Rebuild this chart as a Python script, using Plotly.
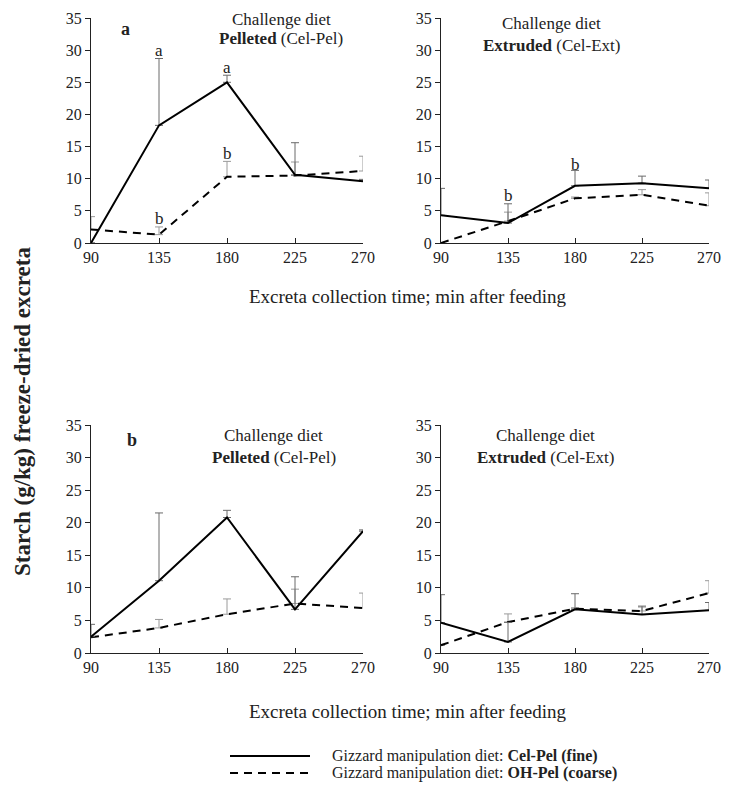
import plotly.graph_objects as go

# ---------------- data ----------------
minutes = [90, 135, 180, 225, 270]
tick_labels = ["90", "135", "180", "225", "270"]

# panel a, Pelleted (Cel-Pel) challenge diet
a_pel_fine = [0.0, 18.3, 25.0, 10.6, 9.6]
a_pel_fine_err = [0.0, 10.4, 1.1, 5.0, 0.3]
a_pel_coarse = [2.1, 1.3, 10.3, 10.5, 11.2]
a_pel_coarse_err = [2.0, 1.2, 2.4, 2.1, 2.3]

# panel a, Extruded (Cel-Ext) challenge diet
a_ext_fine = [4.3, 3.1, 8.9, 9.3, 8.5]
a_ext_fine_err = [4.2, 3.0, 2.4, 1.1, 1.3]
a_ext_coarse = [0.0, 3.4, 6.95, 7.5, 5.8]
a_ext_coarse_err = [0.0, 1.4, 0.2, 0.8, 2.0]

# panel b, Pelleted (Cel-Pel) challenge diet
b_pel_fine = [2.5, 11.1, 20.8, 6.7, 18.7]
b_pel_fine_err = [1.9, 10.4, 1.1, 5.0, 0.2]
b_pel_coarse = [2.4, 3.85, 5.95, 7.6, 6.9]
b_pel_coarse_err = [0.0, 1.3, 2.35, 2.2, 2.3]

# panel b, Extruded (Cel-Ext) challenge diet
b_ext_fine = [4.65, 1.7, 6.7, 5.9, 6.55]
b_ext_fine_err = [4.3, 3.0, 2.4, 1.3, 1.2]
b_ext_coarse = [1.2, 4.75, 6.8, 6.45, 9.2]
b_ext_coarse_err = [0.0, 1.25, 0.15, 0.6, 1.9]

# significance letters: (panel, x, y, letter)
sig_letters = [
    (1, 135, 30.0, "a"), (1, 180, 27.3, "a"),
    (1, 135, 3.8, "b"), (1, 180, 13.9, "b"),
    (2, 135, 7.4, "b"), (2, 180, 12.2, "b"),
]

series_names = ["Gizzard manipulation diet: <b>Cel-Pel (fine)</b>",
                "Gizzard manipulation diet: <b>OH-Pel (coarse)</b>"]

panels = [
    (a_pel_fine, a_pel_fine_err, a_pel_coarse, a_pel_coarse_err),
    (a_ext_fine, a_ext_fine_err, a_ext_coarse, a_ext_coarse_err),
    (b_pel_fine, b_pel_fine_err, b_pel_coarse, b_pel_coarse_err),
    (b_ext_fine, b_ext_fine_err, b_ext_coarse, b_ext_coarse_err),
]

# ---------------- figure ----------------
# page body has an 8px default margin, so the figure is offset by 8px
OFF = 8
W, H = 730 - OFF, 790 - 2 * OFF
FONT = "Liberation Serif, Times New Roman, serif"
INK = "#222"

def px_x(p):
    return (p - OFF) / W

def px_y(p):
    return 1 - (p - OFF) / H

x_domains = [[px_x(91), px_x(363)], [px_x(441), px_x(709)]]
y_domains = [[px_y(243), px_y(18)], [px_y(653), px_y(425)]]

fig = go.Figure()

for i, (fine, fine_err, coarse, coarse_err) in enumerate(panels):
    k = "" if i == 0 else str(i + 1)
    fig.add_trace(go.Scatter(
        x=minutes, y=coarse, mode="lines", xaxis="x" + k, yaxis="y" + k,
        line=dict(color="black", width=2, dash="8px,6px"),
        error_y=dict(type="data", symmetric=False, array=coarse_err,
                     arrayminus=[0] * len(coarse_err), color="#9a9a9a",
                     thickness=1, width=4),
        name=series_names[1], showlegend=False, cliponaxis=False))
    fig.add_trace(go.Scatter(
        x=minutes, y=fine, mode="lines", xaxis="x" + k, yaxis="y" + k,
        line=dict(color="black", width=2),
        error_y=dict(type="data", symmetric=False, array=fine_err,
                     arrayminus=[0] * len(fine_err), color="#6a6a6a",
                     thickness=1, width=4),
        name=series_names[0], showlegend=False, cliponaxis=False))

layout = dict(
    template="none",
    width=W, height=H,
    margin=dict(l=0, r=0, t=0, b=0, pad=0),
    paper_bgcolor="white", plot_bgcolor="white",
    font=dict(family=FONT, size=16, color=INK),
    showlegend=False,
)

for i in range(4):
    k = "" if i == 0 else str(i + 1)
    col = i % 2
    row = i // 2
    layout["xaxis" + k] = dict(
        domain=x_domains[col], anchor="y" + k, range=[90, 270],
        tickvals=minutes, ticktext=tick_labels,
        ticks="inside", ticklen=5, tickcolor=INK, tickwidth=1,
        showline=True, linecolor=INK, linewidth=1,
        showgrid=False, zeroline=False, automargin=False,
        ticklabeloverflow="allow",
        tickfont=dict(family=FONT, size=16, color=INK),
        fixedrange=True,
    )
    layout["yaxis" + k] = dict(
        domain=y_domains[row], anchor="x" + k, range=[0, 35],
        tick0=0, dtick=5,
        ticks="outside", ticklen=5, tickcolor=INK, tickwidth=1,
        showline=True, linecolor=INK, linewidth=1,
        showgrid=False, zeroline=False, automargin=False,
        tickfont=dict(family=FONT, size=16, color=INK),
        fixedrange=True,
    )

fig.update_layout(**layout)

ann = []
# panel letters
ann.append(dict(x=112.5, y=33.3, xref="x", yref="y", text="<b>a</b>",
                showarrow=False, font=dict(size=18)))
ann.append(dict(x=117, y=32.7, xref="x3", yref="y3", text="<b>b</b>",
                showarrow=False, font=dict(size=18)))

# challenge diet headers
headers = [
    ("x", "y", 216, 34.8, 31.8, "<b>Pelleted</b> (Cel-Pel)"),
    ("x2", "y2", 164, 34.1, 30.7, "<b>Extruded</b> (Cel-Ext)"),
    ("x3", "y3", 211, 33.4, 30.0, "<b>Pelleted</b> (Cel-Pel)"),
    ("x4", "y4", 160, 33.4, 30.0, "<b>Extruded</b> (Cel-Ext)"),
]
for xr, yr, xc, y1, y2, t in headers:
    ann.append(dict(x=xc, y=y1, xref=xr, yref=yr, text="Challenge diet",
                    xanchor="center", showarrow=False, font=dict(size=17)))
    ann.append(dict(x=xc, y=y2, xref=xr, yref=yr, text=t,
                    xanchor="center", showarrow=False, font=dict(size=17)))

for p, xv, yv, letter in sig_letters:
    k = "" if p == 1 else str(p)
    ann.append(dict(x=xv, y=yv, xref="x" + k, yref="y" + k, text=letter,
                    xanchor="center", showarrow=False, font=dict(size=17)))

# x-axis titles
for ypx in (297, 711):
    ann.append(dict(x=px_x(408), y=px_y(ypx), xref="paper", yref="paper",
                    text="Excreta collection time; min after feeding",
                    xanchor="center", yanchor="middle",
                    showarrow=False, font=dict(size=19)))

# y-axis title
ann.append(dict(x=px_x(22), y=px_y(412), xref="paper", yref="paper",
                text="<b>Starch (g/kg) freeze-dried excreta</b>", textangle=-90,
                xanchor="center", yanchor="middle",
                showarrow=False, font=dict(size=23)))

# legend
shapes = []
for name, ypx, dash in [(series_names[0], 756, "solid"),
                        (series_names[1], 773, "8px,6px")]:
    shapes.append(dict(type="line", xref="paper", yref="paper",
                       x0=px_x(230), x1=px_x(310), y0=px_y(ypx), y1=px_y(ypx),
                       line=dict(color="black", width=2, dash=dash)))
    ann.append(dict(x=px_x(330), y=px_y(ypx), xref="paper", yref="paper",
                    text=name, xanchor="left", yanchor="middle",
                    showarrow=False, font=dict(size=16)))

fig.update_layout(annotations=ann, shapes=shapes)

fig.write_html("out.html")
